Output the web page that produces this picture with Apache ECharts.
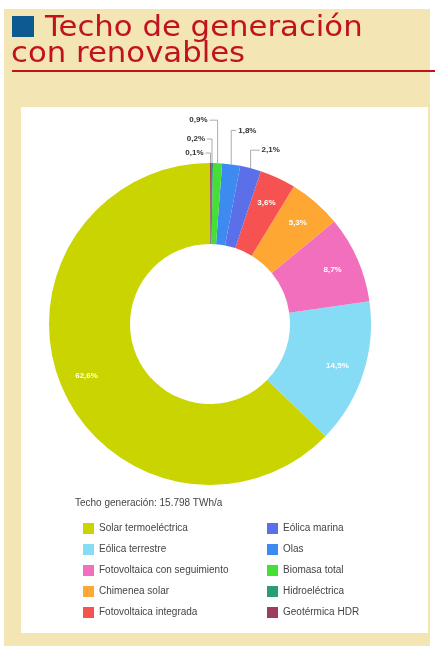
<!DOCTYPE html>
<html><head><meta charset="utf-8">
<script src="https://cdn.jsdelivr.net/npm/echarts@6/dist/echarts.min.js"></script>
<style>html,body{margin:0;padding:0;background:#fff}#c{width:435px;height:646px}</style>
</head><body><div id="c"></div>
<script>
// ---- data ----
const categories = ['Solar termoeléctrica','Eólica terrestre','Fotovoltaica con seguimiento','Chimenea solar','Fotovoltaica integrada','Eólica marina','Olas','Biomasa total','Hidroeléctrica','Geotérmica HDR'];
const values = [62.6, 14.5, 8.7, 5.3, 3.6, 2.1, 1.8, 0.9, 0.2, 0.1];
const colors = ['#c9d400','#86dcf5','#f26fbd','#ffa733','#f75252','#5b6fe8','#3d8af0','#45df35','#2a9d77','#9e3d5e'];
const legendLeft = categories.slice(0, 5);
const legendRight = categories.slice(5);
const legendTitle = 'Techo generación: 15.798 TWh/a';
const titleLines = ['Techo de generación', 'con renovables'];
const outsideIdx = [5, 6, 7, 8, 9];

// ---- style / layout ----
const CENTER = [210, 324];
const RADII = [80, 161];
const INSIDE_LABEL_R = 134;
const smallLayout = {
  5: {rise: 18, side: 1, run: 9},
  6: {rise: 34, side: 1, run: 5},
  7: {rise: 43, side: -1, run: 8},
  8: {rise: 24, side: -1, run: 5},
  9: {rise: 10, side: -1, run: 5}
};

const fmt = v => v.toFixed(1).replace('.', ',') + '%';

const chart = echarts.init(document.getElementById('c'), null, {renderer: 'canvas'});
const red = '#c1121f';

const pieData = categories.map((name, i) => {
  const d = {name, value: values[i], itemStyle: {color: colors[i]}};
  if (outsideIdx.includes(i)) {
    d.label = {position: 'outside', color: '#333', fontSize: 8, fontWeight: 'bold'};
    d.labelLine = {show: true, lineStyle: {color: '#888', width: 0.7}};
  }
  return d;
});

const legendCommon = {orient: 'vertical', top: 518, itemWidth: 11, itemHeight: 11, itemGap: 10, icon: 'rect',
  selectedMode: false, textStyle: {fontSize: 10, color: '#444', fontFamily: 'Liberation Sans', lineHeight: 11}};

chart.setOption({
  animation: false,
  graphic: [
    {type: 'rect', shape: {x: 4, y: 9, width: 426, height: 637}, style: {fill: '#f3e5b4'}, z: -10},
    {type: 'rect', shape: {x: 21, y: 107, width: 407, height: 526}, style: {fill: '#ffffff'}, z: -9},
    {type: 'rect', shape: {x: 12, y: 16, width: 22, height: 21}, style: {fill: '#0d5a91'}},
    {type: 'rect', shape: {x: 12, y: 70, width: 423, height: 2}, style: {fill: red}},
    {type: 'text', x: 45, y: 28, scaleX: 1.06,
      style: {text: titleLines[0], fill: red, fontSize: 29, fontFamily: 'DejaVu Sans', verticalAlign: 'middle', textAlign: 'left'}},
    {type: 'text', x: 11, y: 54, scaleX: 1.06,
      style: {text: titleLines[1], fill: red, fontSize: 29, fontFamily: 'DejaVu Sans', verticalAlign: 'middle', textAlign: 'left'}},
    {type: 'text', x: 75, y: 503,
      style: {text: legendTitle, fill: '#444', fontSize: 10, fontFamily: 'Liberation Sans', verticalAlign: 'middle'}}
  ],
  legend: [
    Object.assign({data: legendLeft, left: 78}, legendCommon),
    Object.assign({data: legendRight, left: 262}, legendCommon)
  ],
  series: [{
    type: 'pie',
    center: CENTER,
    radius: RADII,
    startAngle: 90,
    clockwise: false,
    avoidLabelOverlap: false,
    data: pieData,
    label: {
      position: 'inside', color: '#fff', fontSize: 8, fontWeight: 'bold', fontFamily: 'Liberation Sans',
      formatter: p => fmt(p.value)
    },
    labelLine: {show: true, length: 10, length2: 5},
    labelLayout: function (params) {
      const L = smallLayout[params.dataIndex];
      const pts = params.labelLinePoints;
      if (!L || !pts) {
        const r = params.labelRect;
        const mx = r.x + r.width / 2 - CENTER[0];
        const my = r.y + r.height / 2 - CENTER[1];
        const len = Math.sqrt(mx * mx + my * my) || 1;
        return {
          x: CENTER[0] + mx / len * INSIDE_LABEL_R,
          y: CENTER[1] + my / len * INSIDE_LABEL_R,
          align: 'center', verticalAlign: 'middle'
        };
      }
      const p0 = pts[0];
      const y = p0[1] - L.rise;
      const ex = p0[0] + L.side * L.run;
      return {
        x: ex + L.side * 2,
        y: y,
        align: L.side > 0 ? 'left' : 'right',
        verticalAlign: 'middle',
        labelLinePoints: [[p0[0], p0[1]], [p0[0], y], [ex, y]]
      };
    },
    emphasis: {disabled: true}
  }]
});
</script></body></html>
